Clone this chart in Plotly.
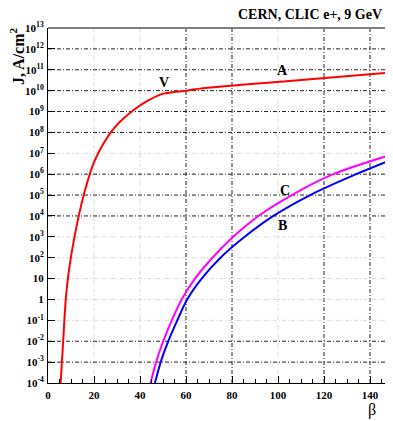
import math
import plotly.graph_objects as go

# ---- data ----
beta_A = [5.5, 6.7, 7.8, 9.1, 11.5, 14.6, 17.3, 20.1, 24.0, 29.1, 37.1, 43.6, 50.1, 60.3, 66.0, 110.0, 150.0]
J_A = [1e-4, 1.6e-2, 1.3e0, 2.5e1, 1.0e3, 4.0e4, 5.0e5, 4.0e6, 2.8e7, 1.8e8, 1.15e9, 3.4e9, 7.2e9, 1.0e10, 1.25e10, 3.2e10, 7.6e10]

beta_C = [44.6, 47.0, 50.1, 53.8, 58.1, 63.9, 71.5, 80.5, 91.5, 106.0, 124.0, 150.0]
J_C = [1e-4, 1e-3, 1e-2, 1e-1, 1e0, 1e1, 1e2, 1e3, 1e4, 1e5, 1e6, 9.1e6]

beta_B = [46.5, 49.0, 52.3, 56.2, 60.5, 66.8, 75.0, 85.5, 98.0, 114.0, 134.0, 150.0]
J_B = [1e-4, 1e-3, 1e-2, 1e-1, 1e0, 1e1, 1e2, 1e3, 1e4, 1e5, 1e6, 5.2e6]

x_ticks = [0, 20, 40, 60, 80, 100, 120, 140]
y_exps = list(range(-4, 14))
y_ticks = [10.0 ** e for e in y_exps]
y_ticktext = ["1" if e == 0 else ("10" if e == 1 else "10<sup>%d</sup>" % e) for e in y_exps]

x_grid_dark = [60, 80, 120, 140]
x_grid_faint = [20, 40, 100]
y_grid_dark = [1e-3, 1e-2, 1e4, 1e5, 1e6, 1e8, 1e9, 1e10, 1e11, 1e12]
y_grid_faint = [1e-1, 1e0, 1e1, 1e2, 1e3, 1e7]

curve_labels = [("V", 50.4, 2.5e10), ("A", 102, 9.5e10), ("C", 103, 1.7e5), ("B", 102, 3.6e3)]

SERIF = "Liberation Serif, Times New Roman, serif"
DASH = "4px,2px,1px,2px"

fig = go.Figure()
for bx, jy, col in [(beta_A, J_A, "#ff0000"), (beta_C, J_C, "#ff00ff"), (beta_B, J_B, "#0000ff")]:
    fig.add_trace(go.Scatter(x=bx, y=jy, mode="lines", line=dict(color=col, width=2, shape="spline", smoothing=0.8),
                             showlegend=False, hoverinfo="skip"))

shapes = []
for v in x_grid_faint:
    shapes.append(dict(type="line", xref="x", yref="paper", x0=v, x1=v, y0=0, y1=1, layer="below",
                       line=dict(color="#d8d8d8", width=1, dash=DASH)))
for v in x_grid_dark:
    shapes.append(dict(type="line", xref="x", yref="paper", x0=v, x1=v, y0=0, y1=1, layer="below",
                       line=dict(color="#222222", width=1, dash=DASH)))
for v in y_grid_faint:
    shapes.append(dict(type="line", xref="paper", yref="y", x0=0, x1=1, y0=v, y1=v, layer="below",
                       line=dict(color="#d8d8d8", width=1, dash=DASH)))
for v in y_grid_dark:
    shapes.append(dict(type="line", xref="paper", yref="y", x0=0, x1=1, y0=v, y1=v, layer="below",
                       line=dict(color="#222222", width=1, dash=DASH)))
# top frame line
shapes.append(dict(type="line", xref="paper", yref="paper", x0=0, x1=1, y0=1, y1=1,
                   line=dict(color="#808080", width=2)))

annotations = []
for txt, bx, jy in curve_labels:
    annotations.append(dict(text="<b>%s</b>" % txt, x=bx, y=math.log10(jy), xref="x", yref="y",
                            showarrow=False, font=dict(family=SERIF, size=14, color="black")))
annotations.append(dict(text="<b>CERN, CLIC e+, 9 GeV</b>", x=0.974, y=1.037, xref="paper", yref="paper",
                        xanchor="right", yanchor="middle", showarrow=False,
                        font=dict(family=SERIF, size=14, color="black")))
annotations.append(dict(text="<b>J, A/cm<sup>2</sup></b>", x=-0.09, y=0.921, xref="paper", yref="paper",
                        xanchor="center", yanchor="middle", textangle=-90, showarrow=False,
                        font=dict(family=SERIF, size=16, color="black")))
annotations.append(dict(text="β", x=0.939, y=-0.076, xref="paper", yref="paper",
                        xanchor="center", yanchor="middle", showarrow=False,
                        font=dict(family=SERIF, size=16, color="black")))

# the page body adds an 8px offset, so the figure is 8px smaller and margins shifted
fig.update_layout(
    width=385, height=413,
    margin=dict(l=40, r=0, t=20, b=38, autoexpand=False),
    paper_bgcolor="white", plot_bgcolor="white",
    shapes=shapes, annotations=annotations,
    xaxis=dict(range=[0, 150], tickvals=x_ticks, showgrid=False, zeroline=False, automargin=False,
               showline=True, linecolor="black", linewidth=1,
               ticks="inside", ticklen=7, tickcolor="black",
               minor=dict(dtick=5, ticks="inside", ticklen=4, tickcolor="black", showgrid=False),
               tickfont=dict(family=SERIF, size=11, color="black", weight="bold"), ticklabelstandoff=2),
    yaxis=dict(type="log", range=[-4, 13], tickvals=y_ticks, ticktext=y_ticktext, showgrid=False,
               zeroline=False, automargin=False, showline=True, linecolor="black", linewidth=1,
               ticks="inside", ticklen=7, tickcolor="black",
               minor=dict(ticks="inside", ticklen=3, tickcolor="black", showgrid=False),
               tickfont=dict(family=SERIF, size=11, color="black", weight="bold"), ticklabelstandoff=1),
)

fig.write_html("out.html")
